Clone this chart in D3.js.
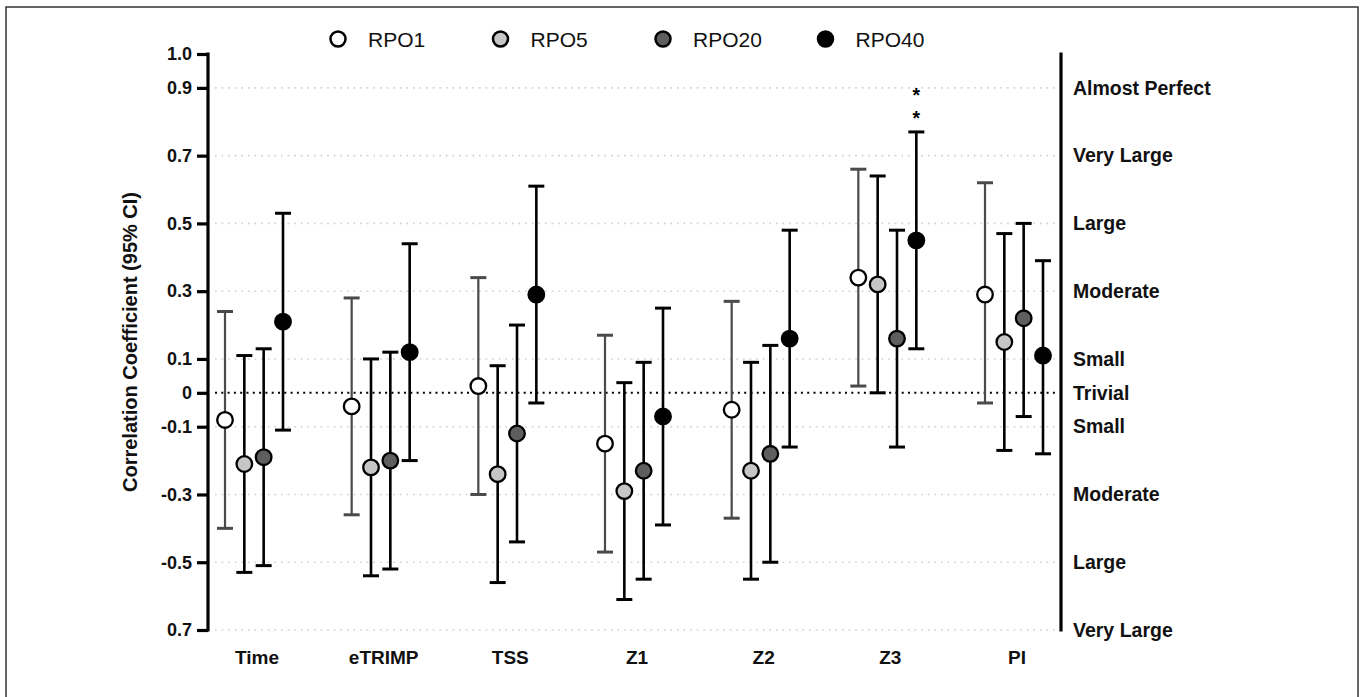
<!DOCTYPE html>
<html>
<head>
<meta charset="utf-8">
<script src="https://cdn.jsdelivr.net/npm/d3@7"></script>
<style>
    body { margin: 0; background: #fff; }
    svg { display: block; font-family: "Liberation Sans", Arial, sans-serif; }
</style>
</head>
<body>
<div class="dot-chart"></div>
<script>
// data
const categories = ['Time', 'eTRIMP', 'TSS', 'Z1', 'Z2', 'Z3', 'PI'];
const seriesNames = ['RPO1', 'RPO5', 'RPO20', 'RPO40'];
const seriesFill = ['#ffffff', '#c6c6c6', '#5e5e5e', '#000000'];

const rpo1Mean  = [-0.08, -0.04,  0.02, -0.15, -0.05, 0.34,  0.29];
const rpo1Lower = [-0.40, -0.36, -0.30, -0.47, -0.37, 0.02, -0.03];
const rpo1Upper = [ 0.24,  0.28,  0.34,  0.17,  0.27, 0.66,  0.62];

const rpo5Mean  = [-0.21, -0.22, -0.24, -0.29, -0.23, 0.32,  0.15];
const rpo5Lower = [-0.53, -0.54, -0.56, -0.61, -0.55, 0.00, -0.17];
const rpo5Upper = [ 0.11,  0.10,  0.08,  0.03,  0.09, 0.64,  0.47];

const rpo20Mean  = [-0.19, -0.20, -0.12, -0.23, -0.18,  0.16,  0.22];
const rpo20Lower = [-0.51, -0.52, -0.44, -0.55, -0.50, -0.16, -0.07];
const rpo20Upper = [ 0.13,  0.12,  0.20,  0.09,  0.14,  0.48,  0.50];

const rpo40Mean  = [ 0.21,  0.12,  0.29, -0.07,  0.16, 0.45,  0.11];
const rpo40Lower = [-0.11, -0.20, -0.03, -0.39, -0.16, 0.13, -0.18];
const rpo40Upper = [ 0.53,  0.44,  0.61,  0.25,  0.48, 0.77,  0.39];

// y ticks (left: value labels, right: magnitude labels)
const yTicks = [1.0, 0.9, 0.7, 0.5, 0.3, 0.1, 0, -0.1, -0.3, -0.5, -0.7];
const yTickLabels = ['1.0', '0.9', '0.7', '0.5', '0.3', '0.1', '0', '-0.1', '-0.3', '-0.5', '0.7'];
const rightTicks = [0.9, 0.7, 0.5, 0.3, 0.1, 0, -0.1, -0.3, -0.5, -0.7];
const rightLabels = ['Almost Perfect', 'Very Large', 'Large', 'Moderate', 'Small', 'Trivial',
                     'Small', 'Moderate', 'Large', 'Very Large'];
const gridTicks = [0.9, 0.7, 0.5, 0.3, 0.1, -0.1, -0.3, -0.5, -0.7];

// significance marks: [category, series, stacked symbols]
const sigMarks = [['Z3', 'RPO40', ['*', '*']]];

// build rows
const allMeans = [rpo1Mean, rpo5Mean, rpo20Mean, rpo40Mean];
const allLower = [rpo1Lower, rpo5Lower, rpo20Lower, rpo40Lower];
const allUpper = [rpo1Upper, rpo5Upper, rpo20Upper, rpo40Upper];
const rows = [];
seriesNames.forEach((s, i) => {
    categories.forEach((c, j) => {
        rows.push({series: s, idx: i, cat: c, mean: allMeans[i][j], lo: allLower[i][j], hi: allUpper[i][j]});
    });
});

setupCanvas(rows);

function setupCanvas(data) {
    const svg_width = 1365;
    const svg_height = 697;

    const svg = d3.select('.dot-chart').append('svg')
        .attr('width', svg_width).attr('height', svg_height);

    // outer frame
    svg.append('rect')
        .attr('x', 6).attr('y', 7).attr('width', 1352).attr('height', 700)
        .style('fill', 'none').style('stroke', '#333').style('stroke-width', 1.5);

    const xLeft = 208, xRight = 1061;

    const yScale = d3.scaleLinear().domain([-0.7, 1.0]).range([630, 54]);
    const xScale = d3.scalePoint().domain(categories).range([254, 1014]);
    const offScale = d3.scalePoint().domain(seriesNames).range([-29, 29]);

    // grid lines
    svg.append('g').attr('class', 'grid')
        .selectAll('line').data(gridTicks).enter()
        .append('line')
        .attr('x1', xLeft + 7).attr('x2', xRight - 5)
        .attr('y1', d => yScale(d)).attr('y2', d => yScale(d))
        .style('stroke', '#cfcfcf').style('stroke-width', 1.6)
        .style('stroke-dasharray', '1.6,5');

    // zero line
    svg.append('line')
        .attr('x1', xLeft + 7).attr('x2', xRight - 5)
        .attr('y1', yScale(0)).attr('y2', yScale(0))
        .style('stroke', '#000').style('stroke-width', 2)
        .style('stroke-dasharray', '2,4.3');

    // left axis
    const yAxis = d3.axisLeft(yScale).tickValues(yTicks)
        .tickFormat((d, i) => yTickLabels[i])
        .tickSizeInner(11).tickSizeOuter(0).tickPadding(5);
    const yG = svg.append('g').attr('class', 'y axis')
        .attr('transform', `translate(${xLeft},0)`)
        .call(yAxis);
    yG.select('.domain').style('stroke', '#000').style('stroke-width', 3.2)
        .attr('d', `M0,${yScale(1.0) - 1.5}V${yScale(-0.7) + 1.5}`);
    yG.selectAll('.tick line').style('stroke', '#000').style('stroke-width', 3.2);
    yG.selectAll('.tick text')
        .style('font-size', '18px').style('font-weight', 'bold').style('fill', '#111');

    // right axis
    const rAxis = d3.axisRight(yScale).tickValues(rightTicks)
        .tickFormat((d, i) => rightLabels[i])
        .tickSize(0).tickPadding(12);
    const rG = svg.append('g').attr('class', 'r axis')
        .attr('transform', `translate(${xRight},0)`)
        .call(rAxis);
    rG.select('.domain').style('stroke', '#000').style('stroke-width', 3.2)
        .attr('d', `M0,${yScale(1.0) - 1.5}V${yScale(-0.7) + 1.5}`);
    rG.selectAll('.tick text')
        .style('font-size', '19.5px').style('font-weight', 'bold').style('fill', '#111');

    // category labels
    svg.append('g').attr('class', 'x-labels')
        .selectAll('text').data(categories).enter()
        .append('text')
        .attr('x', d => xScale(d) + 3).attr('y', 664)
        .attr('text-anchor', 'middle')
        .style('font-size', '19px').style('font-weight', 'bold').style('fill', '#111')
        .text(d => d);

    // y title
    svg.append('text')
        .attr('transform', `translate(137,${yScale(0.15)}) rotate(-90)`)
        .attr('text-anchor', 'middle')
        .style('font-size', '20px').style('font-weight', 'bold').style('fill', '#111')
        .text('Correlation Coefficient (95% CI)');

    const px = d => xScale(d.cat) + offScale(d.series);

    // error bars
    const bars = svg.append('g').attr('class', 'err-bars')
        .selectAll('g').data(data).enter().append('g')
        .style('stroke', d => d.idx === 0 ? '#4a4a4a' : '#000')
        .style('stroke-width', d => d.idx === 0 ? 2.2 : 2.6);
    bars.append('line')
        .attr('x1', px).attr('x2', px)
        .attr('y1', d => yScale(d.hi)).attr('y2', d => yScale(d.lo));
    bars.append('line')
        .attr('x1', d => px(d) - 8).attr('x2', d => px(d) + 8)
        .attr('y1', d => yScale(d.hi)).attr('y2', d => yScale(d.hi))
        .style('stroke-width', 3);
    bars.append('line')
        .attr('x1', d => px(d) - 8).attr('x2', d => px(d) + 8)
        .attr('y1', d => yScale(d.lo)).attr('y2', d => yScale(d.lo))
        .style('stroke-width', 3);

    // points
    svg.append('g').attr('class', 'points')
        .selectAll('circle').data(data).enter()
        .append('circle')
        .attr('cx', px).attr('cy', d => yScale(d.mean))
        .attr('r', 7.8)
        .style('fill', d => seriesFill[d.idx])
        .style('stroke', '#000').style('stroke-width', 2.3);

    // significance asterisks, stacked above the upper CI
    const sigStep = 23;
    const sig = svg.append('g').attr('class', 'sig')
        .selectAll('text').data(sigMarks).enter()
        .append('text')
        .attr('text-anchor', 'middle')
        .style('font-size', '19.5px').style('font-weight', 'bold').style('fill', '#000');
    sig.each(function(d) {
        const row = data.find(r => r.cat === d[0] && r.series === d[1]);
        const x = xScale(d[0]) + offScale(d[1]);
        const yTop = yScale(row.hi) - 7 - (d[2].length - 1) * sigStep;
        d3.select(this).selectAll('tspan').data(d[2]).enter()
            .append('tspan')
            .attr('x', x)
            .attr('y', (s, i) => yTop + i * sigStep)
            .text(s => s);
    });

    // legend
    const legend = svg.append('g').attr('class', 'legend')
        .selectAll('g').data(seriesNames).enter().append('g')
        .attr('transform', (d, i) => `translate(${338 + i * 162.5},39)`);
    legend.append('circle')
        .attr('r', 7.5)
        .style('fill', (d, i) => seriesFill[i])
        .style('stroke', '#000').style('stroke-width', 2.5);
    legend.append('text')
        .attr('x', 30).attr('y', 0)
        .style('dominant-baseline', 'central')
        .style('font-size', '21px').style('fill', '#111')
        .text(d => d);
}
</script>
</body>
</html>
